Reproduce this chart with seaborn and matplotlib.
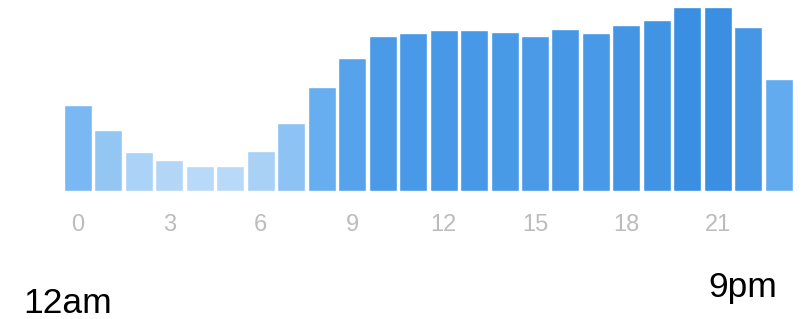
import matplotlib
matplotlib.use("Agg")
import matplotlib.pyplot as plt
import seaborn as sns
import numpy as np
import pandas as pd
from matplotlib.colors import LinearSegmentedColormap

hours = list(range(24))
values = [86, 61, 39, 31, 25, 25, 40, 68, 104, 133, 155, 158,
          161, 161, 159, 155, 162, 158, 166, 171, 184, 184, 164, 112]
tick_hours = [0, 3, 6, 9, 12, 15, 18, 21]
tick_labels = ["0", "3", "6", "9", "12", "15", "18", "21"]
left_label = "12am"
right_label = "9pm"

sns.set_theme(style="white")
plt.rcParams['font.family'] = ['Liberation Sans', 'DejaVu Sans']

cmap = LinearSegmentedColormap.from_list("blues", ["#b9d9f8", "#66aef0", "#3a8fe2"])
vmin, vmax = min(values), max(values)
palette = [cmap((v - vmin) / (vmax - vmin)) for v in values]

df = pd.DataFrame({"hour": hours, "value": values})

fig = plt.figure(figsize=(8.07, 3.19), dpi=100)
ax = fig.add_axes([62.75 / 807, 128 / 319, (794 - 62.75) / 807, (191 - 7) / 319])
sns.barplot(data=df, x="hour", y="value", hue="hour", palette=palette,
            legend=False, width=0.92, ax=ax, saturation=1)
ax.set_ylim(0, max(values))
ax.set_xlim(-0.5, 23.5)
ax.set_xticks(tick_hours)
ax.set_xticklabels(tick_labels)
ax.tick_params(axis="x", length=0, pad=16.5, labelsize=17, labelcolor="#bcbcbc")
for lbl in ax.get_xticklabels():
    lbl.set_fontweight("light")
ax.set_yticks([])
ax.set_xlabel("")
ax.set_ylabel("")
for s in ax.spines.values():
    s.set_visible(False)

fig.text(23 / 807, 1 - 313 / 319, left_label, fontsize=25.5, color="black",
         ha="left", va="baseline")
fig.text(708 / 807, 1 - 297 / 319, right_label, fontsize=25.5, color="black",
         ha="left", va="baseline")

fig.savefig("out.png", dpi=100)
